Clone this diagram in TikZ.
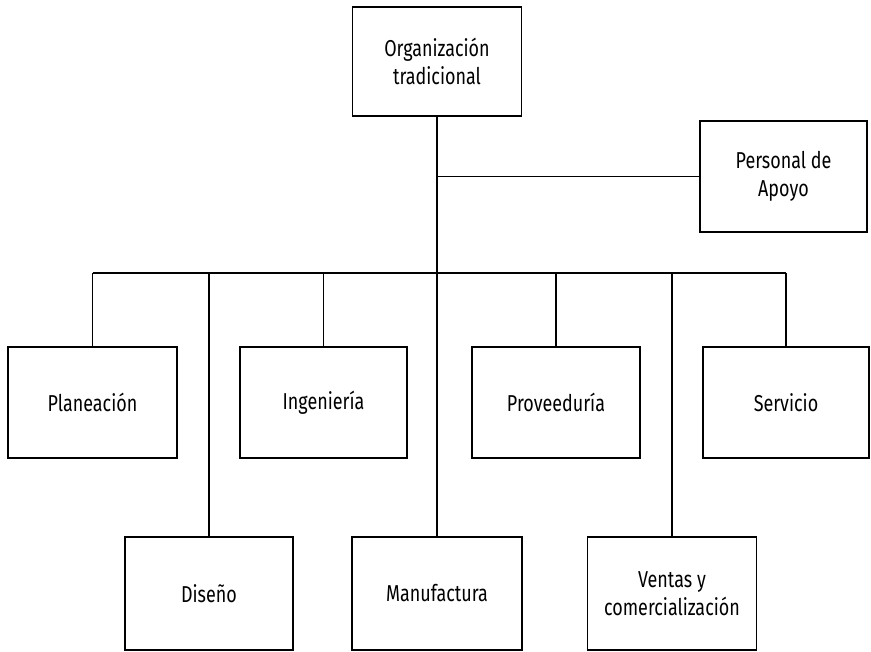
\documentclass[tikz,border=0pt]{standalone}
\usepackage{fontspec}
\setmainfont{Fira Sans}[FakeStretch=0.78]
\usetikzlibrary{positioning,calc}

\begin{document}
\begin{tikzpicture}[x=1pt,y=-1pt,line width=1.8pt,
  caja/.style={draw,line width=1.8pt,minimum width=168pt,minimum height=111pt,
    align=center,inner sep=0pt,font=\fontsize{23}{28}\selectfont}]
\useasboundingbox (0,0) rectangle (871,652);
% cabeza y apoyo
\node[caja,minimum width=169pt,minimum height=109pt] (org) at (437,61.5) {Organización\\tradicional};
\node[caja,minimum width=167pt] (apoyo) at (783.5,176.5) {Personal de\\Apoyo};
% primer nivel
\node[caja,minimum width=169pt] (plan) at (92.5,402.5) {Planeación};
\node[caja,minimum width=167pt] (ing) at (323.5,402.5) {Ingeniería};
\node[caja] (prov) at (556,402.5) {Proveeduría};
\node[caja,minimum width=166pt] (serv) at (786,402.5) {Servicio};
% segundo nivel
\node[caja,minimum height=113pt] (dis) at (209,593.5) {Diseño};
\node[caja,minimum width=170pt,minimum height=113pt] (manu) at (437,593.5) {Manufactura};
\node[caja,minimum width=169pt,minimum height=113pt] (vent) at (672,593.5) {Ventas y\\comercialización};
% conectores
\coordinate (bus) at (0,273);
\draw (org.south) -- (manu.north);
\draw (org.south |- apoyo.west) -- (apoyo.west);
\draw (plan.north |- bus) -- (serv.north |- bus);
\foreach \n in {plan,dis,ing,prov,vent,serv}
  \draw (\n.north |- bus) -- (\n.north);
\end{tikzpicture}
\end{document}
